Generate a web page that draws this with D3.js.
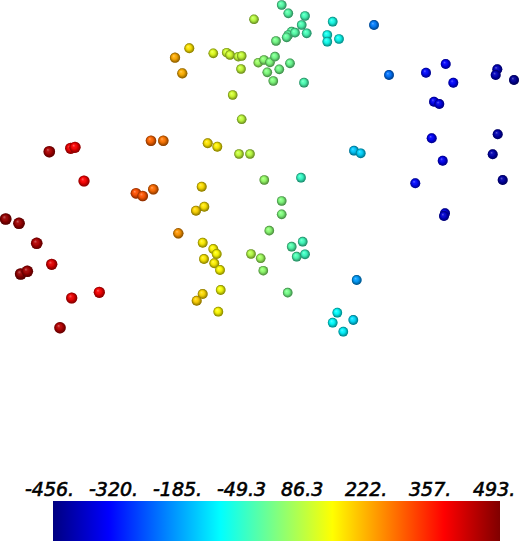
<!DOCTYPE html>
<html>
<head>
<meta charset="utf-8">
<script src="https://cdn.jsdelivr.net/npm/d3@7"></script>
<style>
  html, body { margin: 0; padding: 0; background: #fff; }
  svg { display: block; }
</style>
</head>
<body>
<svg id="chart" width="520" height="541"></svg>
<script>
// ---- data ----
const pointX = [49.3,70.7,75,84,5.7,19,36.7,51.7,20.7,27.3,71.7,99.3,60,
  151,163.3,136,142.7,153.3,178.3,175,182.3,189.3,
  207.7,217.3,201.7,204.3,196,202.7,213.3,216.7,204,214.3,220,220.7,202.7,196.7,218.3,
  213.3,226.7,230,238.3,241.7,241,232.7,241.7,254,239,250,251,260.7,263.3,
  258.3,264,270,275,276,290,267.3,279.3,273.3,264.3,281.7,281.7,269.3,287.7,
  304,301,291.7,302.7,296.7,305,281.7,288.3,305,301.7,306.7,291.7,288.3,286.7,295,
  332.7,327.3,327.3,339,337.3,332.7,343.3,353.3,356.7,354,360.7,374,389,
  426,445.7,453.3,434,439.3,497.3,495.7,514,431.7,497.7,492.7,442.7,502.7,415.3,445,444];
const pointY = [151.7,148.3,147.3,181,219,223.3,243.3,264.3,274,271.3,298,292.3,327.7,
  140.7,140.7,193.3,196,189.3,233.3,57.7,73.3,48.3,
  143.3,146.7,186.7,206.7,210.7,242.7,249,254,259,263.3,270,290,294,300.7,311.7,
  53.3,52.7,55,56.7,56,69,95,119.3,19.3,154,154,254,258.3,270.7,
  62.7,60,62.3,56.7,41,63.3,72.3,69.3,81,180,201,214.3,230.7,292.7,
  82.7,177.7,246.7,241.7,256.7,254.3,5,13.3,16,25,33.3,31.7,35,37.3,32.7,
  21.7,35,41.7,39,312.7,322.7,331.7,320,280,150.7,153.3,25,75,
  72.7,64,82.7,101.7,104,69.3,75,80,138.3,134.3,154.3,160.7,180,183.3,213.3,216];
const pointValue = [450,385,380,375,470,465,445,400,475,460,390,380,440,
  280,265,300,295,275,235,215,210,160,
  160,150,165,160,175,150,145,140,155,150,140,130,170,180,140,
  110,95,95,85,85,85,95,80,75,85,75,70,50,35,
  45,30,20,10,10,0,20,10,20,40,20,20,30,10,
  -30,-50,-25,-40,-30,-45,-20,-20,-35,-30,-35,-15,-15,-10,-20,
  -80,-85,-85,-90,-100,-100,-110,-130,-190,-150,-140,-220,-230,
  -330,-340,-335,-350,-360,-400,-400,-430,-340,-410,-410,-350,-420,-330,-370,-380];
const valueMin = -456, valueMax = 493;
const tickValues = [-456, -320.4, -184.9, -49.3, 86.3, 221.8, 357.4, 493];
const tickLabels = ["-456.", "-320.", "-185.", "-49.3", "86.3", "222.", "357.", "493."];

// ---- jet colormap ----
function jet(t) {
  const c = v => Math.max(0, Math.min(1, v));
  const r = c(1.5 - Math.abs(4 * t - 3));
  const g = c(1.5 - Math.abs(4 * t - 2));
  const b = c(1.5 - Math.abs(4 * t - 1));
  return d3.rgb(r * 255, g * 255, b * 255).toString();
}
const tScale = d3.scaleLinear().domain([valueMin, valueMax]).range([0, 1]).clamp(true);
const color = v => jet(tScale(v));

const svg = d3.select("#chart");
const W = 520, H = 541;
const x = d3.scaleLinear().domain([0, 520]).range([0, W]);
const y = d3.scaleLinear().domain([0, 541]).range([0, H]);
const rScale = d3.scaleLinear().domain([valueMin, 100, valueMax]).range([5.0, 4.8, 5.9]);

const defs = svg.append("defs");
const shade = defs.append("radialGradient").attr("id", "shade")
  .attr("cx", "50%").attr("cy", "50%").attr("r", "50%")
  .attr("fx", "36%").attr("fy", "32%");
shade.append("stop").attr("offset", "0%").attr("stop-color", "#fff").attr("stop-opacity", 0.38);
shade.append("stop").attr("offset", "30%").attr("stop-color", "#fff").attr("stop-opacity", 0.05);
shade.append("stop").attr("offset", "60%").attr("stop-color", "#000").attr("stop-opacity", 0.12);
shade.append("stop").attr("offset", "100%").attr("stop-color", "#000").attr("stop-opacity", 0.5);

const pts = d3.range(pointX.length).map(i => ({x: pointX[i], y: pointY[i], v: pointValue[i]}));
const g = svg.append("g");
const node = g.selectAll("g.pt").data(pts).join("g").attr("class", "pt")
  .attr("transform", d => `translate(${x(d.x)},${y(d.y)})`);
node.append("circle").attr("r", d => rScale(d.v)).attr("fill", d => color(d.v));
node.append("circle").attr("r", d => rScale(d.v)).attr("fill", "url(#shade)");

// ---- color bar ----
const barX0 = 53, barX1 = 500, barY0 = 501, barY1 = 541;
const barScale = d3.scaleLinear().domain([valueMin, valueMax]).range([barX0, barX1]);
const lg = defs.append("linearGradient").attr("id", "jetbar")
  .attr("x1", "0%").attr("x2", "100%").attr("y1", "0%").attr("y2", "0%");
d3.range(0, 1.0001, 0.0625).forEach(t => {
  lg.append("stop").attr("offset", (t * 100) + "%").attr("stop-color", jet(t));
});
svg.append("rect")
  .attr("x", barScale(valueMin)).attr("y", barY0)
  .attr("width", barScale(valueMax) - barScale(valueMin)).attr("height", barY1 - barY0)
  .attr("fill", "url(#jetbar)");

const labelScale = d3.scaleLinear().domain([valueMin, valueMax]).range([25, 473]);
svg.append("g").selectAll("text").data(tickValues).join("text")
  .attr("x", d => labelScale(d))
  .attr("y", 495.5)
  .attr("text-anchor", "start")
  .attr("font-family", "'DejaVu Sans', sans-serif")
  .attr("font-style", "oblique")
  .attr("font-size", 19)
  .attr("fill", "#000")
  .attr("stroke", "#000")
  .attr("stroke-width", 0.6)
  .text((d, i) => tickLabels[i]);
</script>
</body>
</html>
